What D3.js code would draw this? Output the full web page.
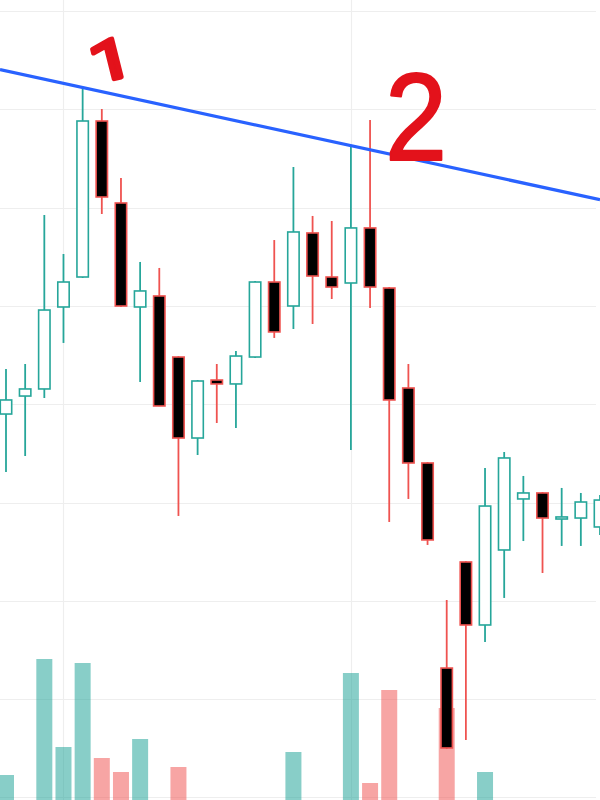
<!DOCTYPE html>
<html>
<head>
<meta charset="utf-8">
<script src="https://cdn.jsdelivr.net/npm/d3@7"></script>
<style>
  html, body { margin: 0; padding: 0; background: #ffffff; }
  svg { display: block; }
</style>
</head>
<body>
<svg id="chart" width="600" height="800"></svg>
<script>
// ---- data ----
const opens  = [39.00,40.83,41.55,49.89,52.94,68.81,60.47,49.89,51.01,44.80,36.56,42.46,42.06,44.80,52.43,49.99,57.42,52.94,52.33,57.93,51.82,41.65,34.02,13.16,23.95,17.54,25.17,30.36,30.97,28.32,28.42,27.51];
const highs  = [43.58,44.09,59.25,55.28,72.07,70.03,63.01,54.47,53.86,44.90,42.46,44.09,45.41,52.53,56.70,64.13,59.15,58.64,66.27,68.91,51.92,44.09,34.12,20.08,24.05,33.51,35.14,32.70,31.07,31.48,30.97,30.76];
const lows   = [33.10,34.73,40.63,46.23,52.84,59.35,49.89,42.26,39.80,28.63,34.83,38.09,37.58,44.70,46.74,47.65,48.16,50.70,35.34,49.79,28.02,30.36,25.68,4.92,5.84,15.81,20.29,26.08,22.83,25.58,25.58,26.69];
const closes = [40.43,41.55,49.58,52.43,68.81,61.08,49.99,51.52,39.82,36.56,42.36,42.06,44.90,52.43,47.35,57.52,53.04,51.92,57.93,51.92,40.43,34.02,26.19,5.03,17.54,29.64,34.53,30.97,28.42,28.53,30.05,30.25];
const volumes = [25,0,141,53,137,42,28,61,0,33,0,0,0,0,0,48,0,0,127,17,110,0,0,92,0,28,0,0,0,0,0,0];
const priceTicks = [0,10,20,30,40,50,60,70,80];
const timeGridIdx = [3,18,33];
// trend line anchors: touches high of candle 4 and candle 18
const trendIdx = [4,18];
const trendPrice = [72.22,66.30];
const annotations = ["1","2"];

// ---- scales ----
const W = 600, H = 800;
const svg = d3.select("#chart");
const x = d3.scaleLinear().domain([0, 31]).range([6, 600]);
const y = d3.scaleLinear().domain([0, 80]).range([797.4, 11]);
const yv = d3.scaleLinear().domain([0, 200]).range([800, 600]);

const UP = "#26a69a", DOWN = "#ef5350";
const UPVOL = "rgba(38,166,154,0.55)", DOWNVOL = "rgba(239,83,80,0.52)";

const candles = opens.map((o,i)=>({i, o, h:highs[i], l:lows[i], c:closes[i], v:volumes[i], up: closes[i] >= o}));

// grid
const grid = svg.append("g");
grid.selectAll("line.h").data(priceTicks).join("line")
  .attr("x1", 0).attr("x2", 596)
  .attr("y1", d=>Math.round(y(d))+0.5).attr("y2", d=>Math.round(y(d))+0.5)
  .attr("stroke", "#eeeeee").attr("stroke-width", 1.2);
grid.selectAll("line.v").data(timeGridIdx).join("line")
  .attr("x1", d=>Math.round(x(d))+0.5).attr("x2", d=>Math.round(x(d))+0.5)
  .attr("y1", 0).attr("y2", H)
  .attr("stroke", "#eeeeee").attr("stroke-width", 1.2);

// volume
svg.append("g").selectAll("rect").data(candles.filter(d=>d.v>0)).join("rect")
  .attr("x", d=>x(d.i)-8).attr("width", 16)
  .attr("y", d=>yv(d.v)).attr("height", d=>yv(0)-yv(d.v))
  .attr("fill", d=>d.up ? UPVOL : DOWNVOL);

// candles
const cg = svg.append("g").selectAll("g").data(candles).join("g");
cg.append("line")
  .attr("x1", d=>x(d.i)).attr("x2", d=>x(d.i))
  .attr("y1", d=>y(d.h)).attr("y2", d=>y(d.l))
  .attr("stroke", d=>d.up ? UP : DOWN).attr("stroke-width", 1.8);
cg.append("rect")
  .attr("x", d=>x(d.i)-5.7).attr("width", 11.4)
  .attr("y", d=>y(Math.max(d.o,d.c)))
  .attr("height", d=>Math.max(1, Math.abs(y(d.o)-y(d.c))))
  .attr("fill", d=>d.up ? "#ffffff" : "#000000")
  .attr("stroke", d=>d.up ? UP : DOWN).attr("stroke-width", 1.6);

// trend line extended across the pane
const slope = (trendPrice[1]-trendPrice[0])/(trendIdx[1]-trendIdx[0]);
const xi0 = x.invert(0), xi1 = x.invert(W);
svg.append("line")
  .attr("x1", 0).attr("y1", y(trendPrice[0] + slope*(xi0-trendIdx[0])))
  .attr("x2", W).attr("y2", y(trendPrice[0] + slope*(xi1-trendIdx[0])))
  .attr("stroke", "#2962ff").attr("stroke-width", 3.2);

// hand-drawn labels
const RED = "#e3121b";
svg.append("text").text(annotations[0])
  .attr("font-family", "Roboto, Noto Sans, sans-serif").attr("font-size", 56)
  .attr("fill", RED).attr("stroke", RED).attr("stroke-width", 4).attr("stroke-linejoin", "round").attr("stroke-linecap", "round")
  .attr("transform", "translate(95,84) rotate(-14) scale(1.35,1)");
svg.append("text").text(annotations[1])
  .attr("font-family", "Liberation Sans, Arial, sans-serif").attr("font-size", 124)
  .attr("fill", RED).attr("stroke", RED).attr("stroke-width", 2).attr("stroke-linejoin", "round")
  .attr("transform", "translate(385,160) scale(0.9,1)");
</script>
</body>
</html>
